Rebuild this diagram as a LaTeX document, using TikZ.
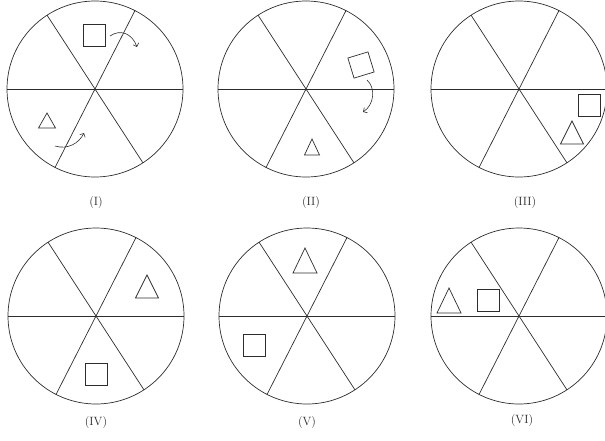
\documentclass[tikz,border=0pt]{standalone}
\usetikzlibrary{arrows.meta}
\definecolor{wheelGray}{RGB}{45, 45, 45}

\begin{document}
\begin{tikzpicture}[
  x=1pt, y=-1pt,
  wheel/.style={
    draw=wheelGray,
    circle,
    minimum size=176pt,
    inner sep=0pt,
    outer sep=0pt,
    line width=0.7pt
  },
  spoke/.style={wheelGray,line width=0.7pt},
  box/.style={
    draw=wheelGray,
    minimum size=22pt,
    inner sep=0pt,
    line width=0.7pt
  },
  tri/.style={wheelGray,line width=0.7pt},
  caption/.style={font=\large,text=wheelGray},
  turn/.style={-{Straight Barb[length=3pt]},wheelGray,line width=0.6pt}
]
  \useasboundingbox (0,0) rectangle (605,440);

  % the six wheels with their spokes and labels
  \foreach \n/\cx/\cy/\lx/\ly in {I/95/89/96/202, II/306/89/311/202, III/519/89/525/202,
                                  IV/96/316/96/422, V/307/316/307/422, VI/519/316/522/420} {
    \node[wheel] (c\n) at (\cx,\cy) {};
    \draw[spoke] (c\n.180) -- (c\n.0);
    \draw[spoke] (c\n.63) -- (c\n.243);
    \draw[spoke] (c\n.123) -- (c\n.303);
    \node[caption] (lab\n) at (\lx,\ly) {(\n)};
  }

  % squares
  \node[box] (sqI) at (94,35.5) {};
  \node[box,rotate=17,minimum size=21pt] (sqII) at (361,65) {};
  \node[box] (sqIII) at (589.5,105) {};
  \node[box] (sqIV) at (96.5,374) {};
  \node[box] (sqV) at (254.5,345) {};
  \node[box] (sqVI) at (488.5,300.5) {};

  % triangles: apex x, apex y, width, height
  \foreach \ax/\ay/\w/\h in {47/113/17/15, 312/139/15/16, 572/121/23/23,
                             147/275/23/23, 305/248/24/25, 449/288/24/25}
    \draw[tri] (\ax,\ay) -- ++(\w/2,\h) -- ++(-\w,0) -- cycle;

  % rotation arrows
  \coordinate (aIs) at (110,36);
  \coordinate (aIe) at (137,47);
  \coordinate (bIs) at (55,146);
  \coordinate (bIe) at (84,133);
  \coordinate (aIIs) at (367,80);
  \coordinate (aIIe) at (363,112);
  \draw[turn] (aIs) .. controls (120,29) and (132,33) .. (aIe);
  \draw[turn] (bIs) .. controls (68,150) and (79,143) .. (bIe);
  \draw[turn] (aIIs) .. controls (376,88) and (374,105) .. (aIIe);
\end{tikzpicture}
\end{document}
